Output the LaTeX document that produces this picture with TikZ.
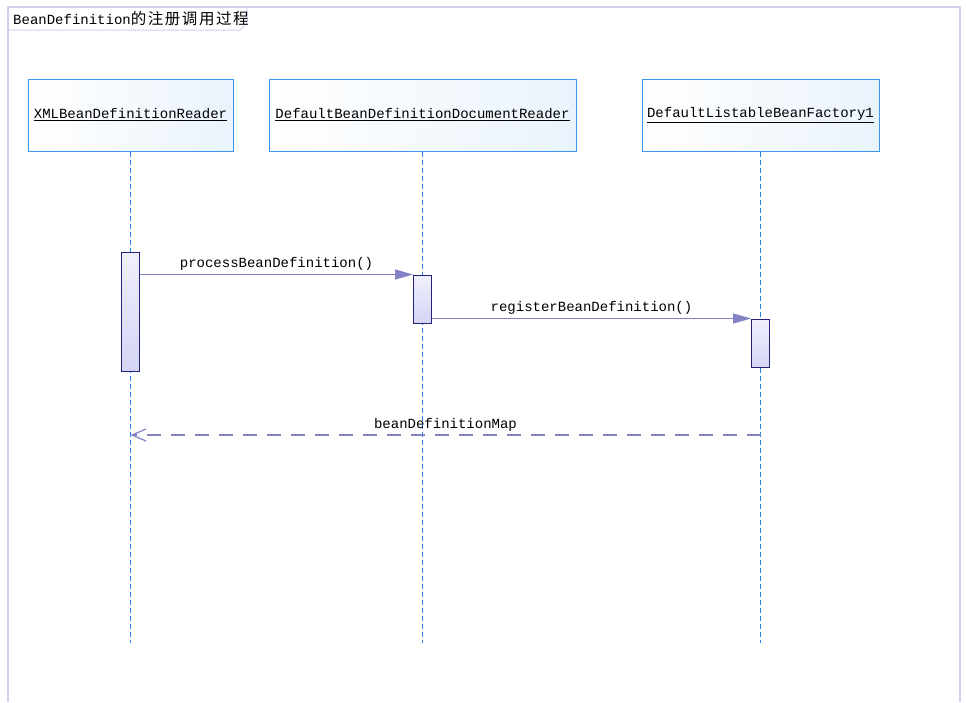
\documentclass[tikz,border=0pt]{standalone}
\usepackage{fontspec}
\setmonofont{Liberation Mono}
\newfontfamily\cjkfont[LetterSpace=10]{Noto Sans CJK SC}
\usetikzlibrary{arrows.meta}
\definecolor{framecol}{HTML}{CFCFEA}
\definecolor{headline}{HTML}{3C96F0}
\definecolor{headfill}{HTML}{EAF3FC}
\definecolor{lifecol}{HTML}{1E82F0}
\definecolor{actline}{HTML}{23237D}
\definecolor{actfill}{HTML}{D4D4F6}
\definecolor{msgcol}{HTML}{8282C4}

\begin{document}
\begin{tikzpicture}[x=1pt,y=-1pt,
  font=\ttfamily\fontsize{14pt}{15pt}\selectfont,
  head/.style={draw=headline,line width=1pt,left color=white,right color=headfill,minimum height=72pt,inner sep=0pt},
  act/.style={draw=actline,line width=1pt,top color=actfill!35,bottom color=actfill,minimum width=18pt,inner sep=0pt},
  life/.style={draw=lifecol,line width=1.4pt,dash pattern=on 5pt off 3pt},
  msg/.style={draw=msgcol,fill=msgcol,line width=1.2pt,-{Triangle[length=18pt,width=10pt]}},
  ret/.style={draw=msgcol,line width=1.2pt,dash pattern=on 14pt off 10pt,-{Straight Barb[length=14pt,width=12pt]}}]
 \useasboundingbox (0,0) rectangle (966,702);

 % frame and title tab
 \draw[framecol,line width=1.5pt] (8,702) -- (8,7) -- (960,7) -- (960,702);
 \draw[framecol,line width=1pt] (8,30) -- (240,30) -- (247,23) -- (247,7);
 \node[anchor=west,inner sep=0pt] (title) at (13,19) {BeanDefinition{\cjkfont\fontsize{15.5pt}{16pt}\selectfont 的注册调用过程}};

 % objects
 \node[head,minimum width=205pt] (xmlreader) at (130.5,115) {\underline{XMLBeanDefinitionReader}};
 \node[head,minimum width=307pt] (docreader) at (422.5,115) {\underline{DefaultBeanDefinitionDocumentReader}};
 \node[head,minimum width=237pt] (factory) at (760.5,115) {\underline{DefaultListableBeanFactory1}};

 % lifelines
 \coordinate (lifeend) at (0,643);
 \draw[life] (xmlreader.south) -- (xmlreader.south |- lifeend)
             (docreader.south) -- (docreader.south |- lifeend)
             (factory.south) -- (factory.south |- lifeend);

 % activations
 \node[act,minimum height=119pt] (actxml) at (130.5,311.5) {};
 \node[act,minimum height=48pt] (actdoc) at (422.5,299) {};
 \node[act,minimum height=48pt] (actfac) at (760.5,343) {};

 % messages
 \draw[msg] (actxml.east |- actdoc.north west) -- node[above,text=black] {processBeanDefinition()} (actdoc.north west);
 \draw[msg] (actdoc.east |- actfac.north west) -- node[above,text=black] {registerBeanDefinition()} (actfac.north west);
 \coordinate (retlvl) at (0,435);
 \draw[ret] (factory.south |- retlvl) -- node[above,text=black] {beanDefinitionMap} (xmlreader.south |- retlvl);
%  \draw[ret] (actdoc.south) -- (actxml.east);
\end{tikzpicture}
\end{document}
